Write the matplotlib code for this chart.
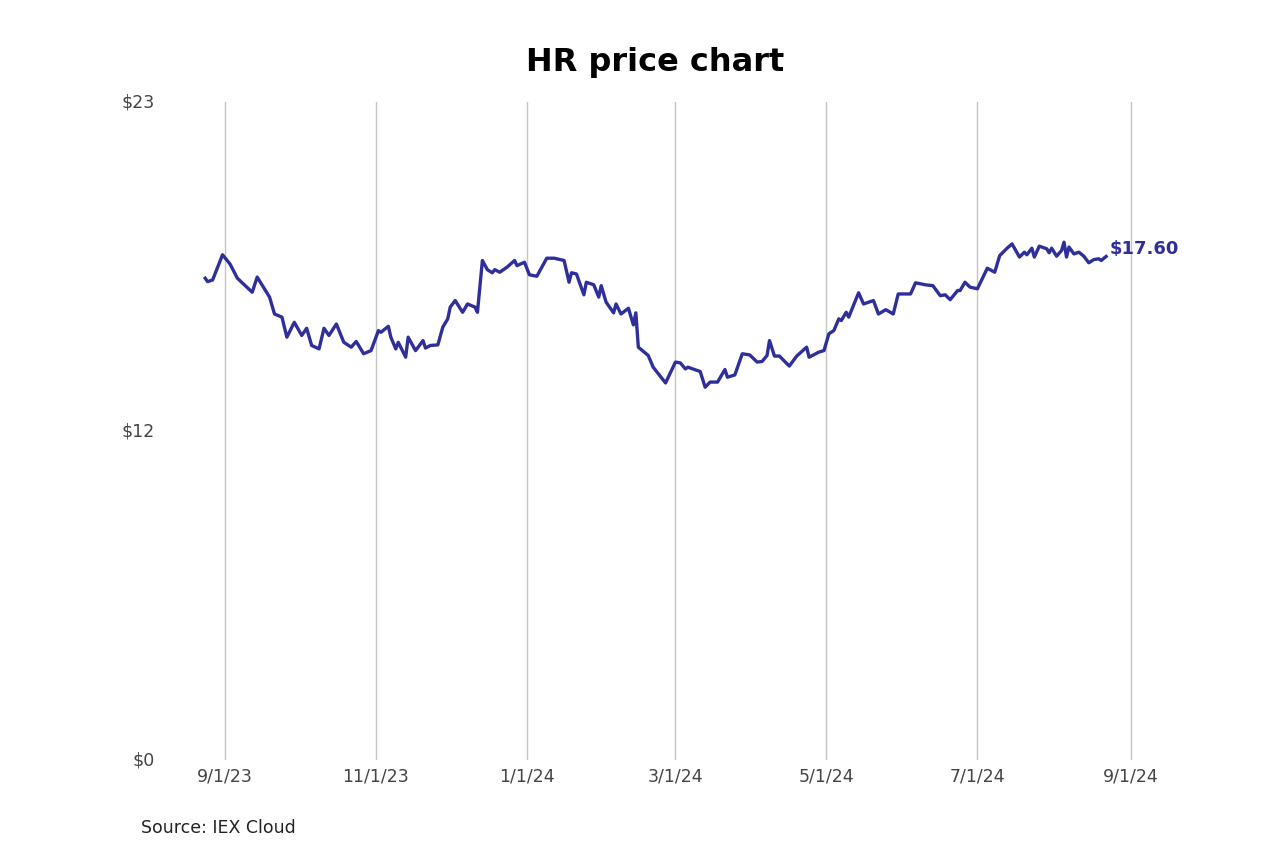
import matplotlib
matplotlib.use("Agg")
import matplotlib.pyplot as plt
import matplotlib.dates as mdates
import pandas as pd

title = "HR price chart"
source = "Source: IEX Cloud"

dates = [
    "2023-08-24", "2023-08-25", "2023-08-27", "2023-08-31", "2023-09-03", "2023-09-06",
    "2023-09-12", "2023-09-14", "2023-09-19", "2023-09-21", "2023-09-24", "2023-09-26",
    "2023-09-29", "2023-10-02", "2023-10-04", "2023-10-06", "2023-10-09", "2023-10-11",
    "2023-10-13", "2023-10-16", "2023-10-19", "2023-10-22", "2023-10-24", "2023-10-25",
    "2023-10-27", "2023-10-30", "2023-11-02", "2023-11-03", "2023-11-06", "2023-11-07",
    "2023-11-09", "2023-11-10", "2023-11-13", "2023-11-14", "2023-11-17", "2023-11-20",
    "2023-11-21", "2023-11-23", "2023-11-26", "2023-11-28", "2023-11-30", "2023-12-01",
    "2023-12-03", "2023-12-06", "2023-12-08", "2023-12-11", "2023-12-12", "2023-12-14",
    "2023-12-16", "2023-12-18", "2023-12-19", "2023-12-21", "2023-12-24", "2023-12-27",
    "2023-12-28", "2023-12-31", "2024-01-02", "2024-01-05", "2024-01-09", "2024-01-12",
    "2024-01-16", "2024-01-18", "2024-01-19", "2024-01-21", "2024-01-24", "2024-01-25",
    "2024-01-28", "2024-01-30", "2024-01-31", "2024-02-02", "2024-02-05", "2024-02-06",
    "2024-02-08", "2024-02-11", "2024-02-13", "2024-02-14", "2024-02-15", "2024-02-19",
    "2024-02-21", "2024-02-26", "2024-03-01", "2024-03-03", "2024-03-05", "2024-03-06",
    "2024-03-11", "2024-03-13", "2024-03-15", "2024-03-18", "2024-03-21", "2024-03-22",
    "2024-03-25", "2024-03-28", "2024-03-31", "2024-04-03", "2024-04-05", "2024-04-07",
    "2024-04-08", "2024-04-10", "2024-04-12", "2024-04-16", "2024-04-19", "2024-04-23",
    "2024-04-24", "2024-04-28", "2024-04-30", "2024-05-02", "2024-05-04", "2024-05-06",
    "2024-05-07", "2024-05-09", "2024-05-10", "2024-05-14", "2024-05-16", "2024-05-20",
    "2024-05-22", "2024-05-25", "2024-05-28", "2024-05-30", "2024-06-04", "2024-06-06",
    "2024-06-10", "2024-06-13", "2024-06-16", "2024-06-18", "2024-06-20", "2024-06-23",
    "2024-06-24", "2024-06-26", "2024-06-28", "2024-06-30", "2024-07-01", "2024-07-05",
    "2024-07-08", "2024-07-10", "2024-07-13", "2024-07-15", "2024-07-18", "2024-07-20",
    "2024-07-21", "2024-07-23", "2024-07-24", "2024-07-26", "2024-07-29", "2024-07-30",
    "2024-07-31", "2024-08-02", "2024-08-04", "2024-08-05", "2024-08-06", "2024-08-07",
    "2024-08-09", "2024-08-11", "2024-08-13", "2024-08-15", "2024-08-17", "2024-08-19",
    "2024-08-20", "2024-08-22",
]

prices = [
    16.84, 16.72, 16.78, 17.66, 17.34, 16.84,
    16.35, 16.88, 16.18, 15.59, 15.48, 14.78,
    15.30, 14.84, 15.09, 14.49, 14.37, 15.09,
    14.84, 15.24, 14.60, 14.43, 14.63, 14.49,
    14.20, 14.31, 15.01, 14.95, 15.16, 14.78,
    14.37, 14.60, 14.08, 14.78, 14.31, 14.66,
    14.40, 14.49, 14.51, 15.13, 15.42, 15.83,
    16.06, 15.65, 15.94, 15.83, 15.65, 17.46,
    17.14, 17.03, 17.14, 17.05, 17.23, 17.46,
    17.28, 17.40, 16.96, 16.91, 17.54, 17.54,
    17.46, 16.70, 17.03, 16.99, 16.26, 16.70,
    16.61, 16.18, 16.58, 16.00, 15.63, 15.94,
    15.59, 15.79, 15.21, 15.63, 14.43, 14.14,
    13.73, 13.18, 13.91, 13.88, 13.67, 13.73,
    13.58, 13.03, 13.21, 13.21, 13.65, 13.38,
    13.46, 14.20, 14.16, 13.91, 13.93, 14.14,
    14.66, 14.12, 14.12, 13.77, 14.12, 14.43,
    14.08, 14.26, 14.31, 14.90, 15.01, 15.42,
    15.36, 15.65, 15.48, 16.33, 15.94, 16.06,
    15.59, 15.74, 15.59, 16.29, 16.29, 16.68,
    16.61, 16.58, 16.23, 16.26, 16.09, 16.41,
    16.41, 16.70, 16.53, 16.49, 16.47, 17.19,
    17.05, 17.63, 17.89, 18.04, 17.58, 17.75,
    17.66, 17.89, 17.58, 17.96, 17.87, 17.73,
    17.89, 17.61, 17.81, 18.10, 17.58, 17.93,
    17.69, 17.75, 17.61, 17.38, 17.49, 17.52,
    17.46, 17.60,
]

x_tick_dates = ["2023-09-01", "2023-11-01", "2024-01-01", "2024-03-01",
                "2024-05-01", "2024-07-01", "2024-09-01"]
x_tick_labels = ["9/1/23", "11/1/23", "1/1/24", "3/1/24", "5/1/24", "7/1/24", "9/1/24"]
y_ticks = [0, 11.5, 23]
y_tick_labels = ["$0", "$12", "$23"]
last_label = "$17.60"

line_color = "#2f2f9c"
text_color = "#444444"

W, H = 1280, 853
fig = plt.figure(figsize=(W / 100, H / 100), dpi=100)
fig.patch.set_facecolor("white")

ax_left_px, ax_right_px = 180, 1180
ax_top_px, ax_bottom_px = 103, 761
ax = fig.add_axes([ax_left_px / W, (H - ax_bottom_px) / H,
                   (ax_right_px - ax_left_px) / W, (ax_bottom_px - ax_top_px) / H])

x = pd.to_datetime(dates)
ax.plot(x, prices, color=line_color, lw=2.4, solid_joinstyle="round", zorder=3)

# x-limits: 9/1/23 at px 225, 2.475 px per day
origin = mdates.date2num(pd.Timestamp("2023-09-01"))
ppd = 2.475
ax.set_xlim(origin + (ax_left_px - 225) / ppd, origin + (ax_right_px - 225) / ppd)
ax.set_ylim(0, 23)

ax.set_xticks(pd.to_datetime(x_tick_dates))
ax.set_xticklabels(x_tick_labels)
ax.set_yticks(y_ticks)
ax.set_yticklabels(y_tick_labels)
ax.tick_params(axis="both", length=0, labelsize=12.5, labelcolor=text_color)
ax.tick_params(axis="x", pad=5)
ax.tick_params(axis="y", pad=18)
for lab in ax.get_yticklabels():
    lab.set_verticalalignment("center")

ax.grid(axis="x", color="#c4c4c4", lw=1.0)
ax.grid(axis="y", visible=False)
for s in ax.spines.values():
    s.set_visible(False)

ax.annotate(last_label, xy=(x[-1], prices[-1]), xytext=(2.5, 6),
            textcoords="offset points", ha="left", va="center",
            color=line_color, fontsize=13, fontweight="bold")

fig.text(655 / W, 1 - 62 / H, title, ha="center", va="center",
         fontsize=23, fontweight="bold", color="black")
fig.text(141 / W, 1 - 828 / H, source, ha="left", va="center",
         fontsize=12.5, color="#222222")

fig.savefig("out.png", dpi=100)
